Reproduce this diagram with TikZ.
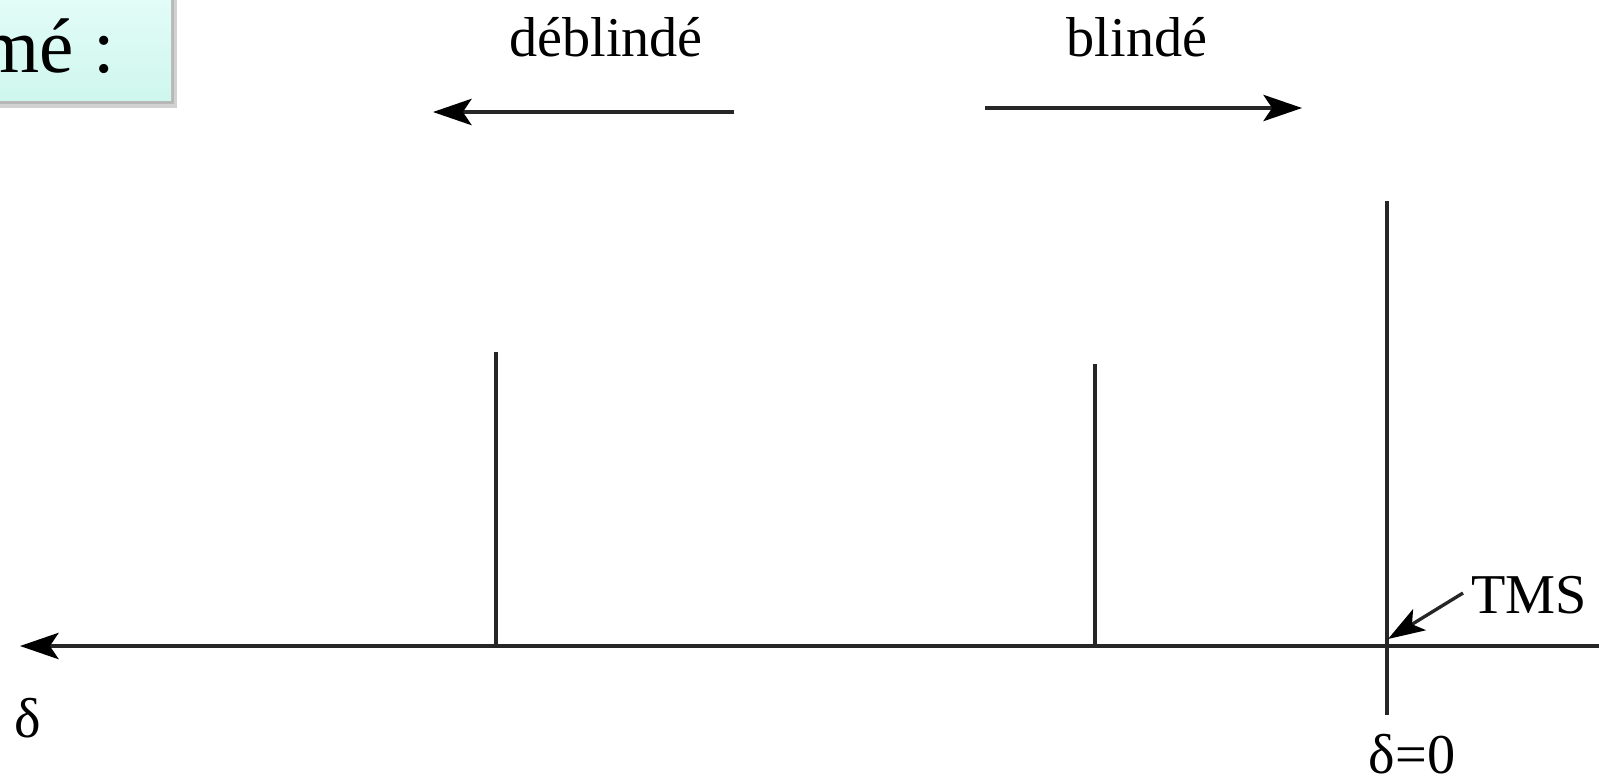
\documentclass[tikz,border=0pt]{standalone}
\usepackage{fontspec}
\setmainfont{Liberation Serif}
\usetikzlibrary{arrows.meta}
\definecolor{boxfill}{HTML}{CFF7EE}
\definecolor{boxtop}{HTML}{E4FCF8}
\begin{document}
\begin{tikzpicture}[x=0.02cm,y=-0.02cm,
  ln/.style={line width=1.9pt,black!85},
  arr/.style={ln,-{Stealth[length=22pt,width=15pt,inset=5pt,fill=black,color=black]}},
  small/.style={ln,-{Stealth[length=21pt,width=14pt,inset=5pt,fill=black,color=black]}},
  lbl/.style={font=\fontsize{32}{36}\selectfont,inner sep=0pt}]
\useasboundingbox (0,0) rectangle (1599,782);
% title box
\fill[black!18] (-20,-10) rectangle (177,108);
\fill[black!28] (-20,-10) rectangle (174,104);
\shade[top color=boxtop,bottom color=boxfill] (-20,-10) rectangle (171,100);
\node[anchor=base east,inner sep=0pt,font=\fontsize{44}{48}\selectfont] (title) at (115,72) {mé :};
% direction labels and arrows
\node[lbl,anchor=base] (deb) at (606,56) {déblindé};
\node[lbl,anchor=base] (bli) at (1137,56) {blindé};
\coordinate (da) at (734,112);
\coordinate (db) at (433,112);
\draw[arr] (da) -- (db);
\coordinate (ba) at (985,108);
\coordinate (bb) at (1302,108);
\draw[arr] (ba) -- (bb);
% axis
\coordinate (axR) at (1599,646);
\coordinate (axL) at (20,646);
\draw[arr] (axR) -- (axL);
% peaks
\coordinate (p1t) at (496,352); \coordinate (p1b) at (496,646);
\coordinate (p2t) at (1095,364); \coordinate (p2b) at (1095,646);
\coordinate (p3t) at (1387,201); \coordinate (p3b) at (1387,715);
\draw[ln] (p1t) -- (p1b);
\draw[ln] (p2t) -- (p2b);
\draw[ln] (p3t) -- (p3b);
% TMS
\node[lbl,anchor=base west] (tms) at (1471,613) {TMS};
\coordinate (tmsa) at (1463,593);
\coordinate (tmsb) at (1388,639);
\draw[small] (tmsa) -- (tmsb);
% labels
\node[lbl,anchor=base] (d0) at (1412,773) {δ=0};
\node[lbl,anchor=base] (d) at (28,737) {δ};
\end{tikzpicture}
\end{document}
